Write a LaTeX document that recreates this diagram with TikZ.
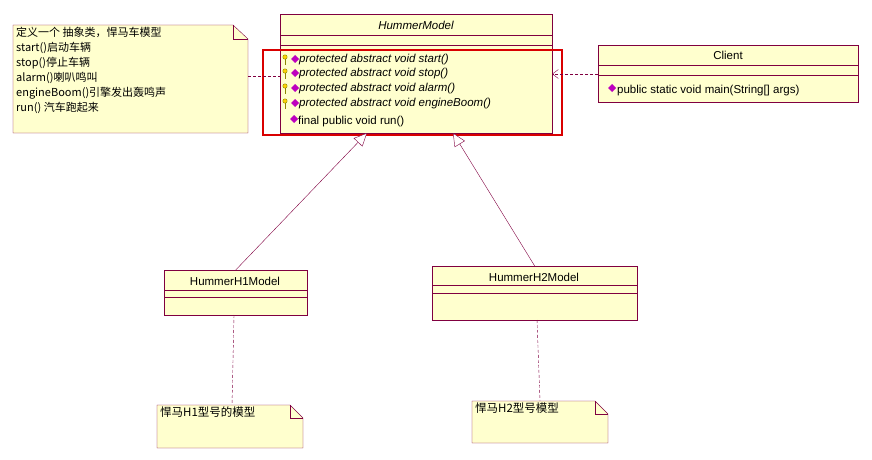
\documentclass[tikz,border=0pt]{standalone}
\usepackage{fontspec}
\setmainfont{Liberation Sans}
\newfontfamily\cjk{Noto Sans CJK SC}
\usetikzlibrary{shapes.geometric,arrows.meta}
\definecolor{umlfill}{RGB}{255,255,206}
\definecolor{umlline}{RGB}{128,0,64}
\definecolor{umlpink}{RGB}{190,0,190}
\tikzset{umlbox/.style={draw=umlline,fill=umlfill,anchor=north west,inner sep=0pt}}
\tikzset{umlnote/.style={umlline,fill=umlfill}}
\tikzset{mylink/.style={umlline,densely dashed}}
\tikzset{mytext/.style={font=\fontsize{11.5}{13}\selectfont,anchor=west,inner sep=1pt}}
\newcommand{\opdiamond}[1]{\fill[umlpink] (#1) ++(-4,-1) -- ++(4,-4) -- ++(4,4) -- ++(-4,4) -- cycle;}
\newcommand{\opkey}[1]{\draw[olive,fill=yellow!70!orange] (#1) ++(-6,-3) circle (2.2); \draw[olive,thick] (#1) ++(-6,-1) -- ++(0,6);}
\begin{document}
\begin{tikzpicture}[x=1pt,y=-1pt]
	\useasboundingbox (0,0) rectangle (872,460);

	% abstract class
	\node[umlbox,minimum width=272,minimum height=119] (hm) at (280,14) {};
	\node[mytext,anchor=center,font=\fontsize{11.5}{13}\selectfont\itshape] (hmname) at (416,25) {HummerModel};
	\draw[umlline] (280,35) -- (552,35) (280,45) -- (552,45);
	\foreach \y/\t [count=\i] in {60/start(),74/stop(),89/alarm(),104/engineBoom()} {
		\opkey{291,\y}
		\opdiamond{295,\y}
		\node[mytext,font=\fontsize{11.5}{13}\selectfont\itshape] (op\i) at (298,\y) {protected abstract void \t};
	}
	\opdiamond{294,120}
	\node[mytext] (op5) at (297,122) {final public void run()};
	\draw[red!85!black,line width=1.3pt] (263,50) rectangle (562,135);

	% client
	\node[umlbox,minimum width=260,minimum height=57] (cl) at (598,45) {};
	\node[mytext,anchor=center] (clname) at (728,55) {Client};
	\draw[umlline] (598,65) -- (858,65) (598,75) -- (858,75);
	\opdiamond{612,89}
	\node[mytext] (clop) at (616,91) {public static void main(String[] args)};

	% subclasses
	\node[umlbox,minimum width=143,minimum height=45] (h1) at (164,270) {};
	\node[mytext,anchor=center] (h1name) at (235,281) {HummerH1Model};
	\draw[umlline] (164,290) -- (307,290) (164,297) -- (307,297);
	\node[umlbox,minimum width=205,minimum height=54] (h2) at (432,266) {};
	\node[mytext,anchor=center] (h2name) at (534,277) {HummerH2Model};
	\draw[umlline] (432,285) -- (637,285) (432,293) -- (637,293);

	% notes
	\draw[umlnote] (13,25) -- (233,25) -- (248,39) -- (248,133) -- (13,133) -- cycle;
	\draw[umlline] (233,25) -- (233,39) -- (248,39);
	\node[mytext,anchor=north west,align=left,font=\fontsize{11}{15}\selectfont\cjk] (n0) at (15,26) {定义一个 抽象类，悍马车模型\\start()启动车辆\\stop()停止车辆\\alarm()喇叭鸣叫\\engineBoom()引擎发出轰鸣声\\run() 汽车跑起来};
	\draw[umlnote] (157,405) -- (290,405) -- (303,418) -- (303,448) -- (157,448) -- cycle;
	\draw[umlline] (290,405) -- (290,418) -- (303,418);
	\node[mytext,anchor=north west,font=\fontsize{11.5}{13}\selectfont\cjk] (n1) at (159,406) {悍马H1型号的模型};
	\draw[umlnote] (472,401) -- (595,401) -- (608,414) -- (608,443) -- (472,443) -- cycle;
	\draw[umlline] (595,401) -- (595,414) -- (608,414);
	\node[mytext,anchor=north west,font=\fontsize{11.5}{13}\selectfont\cjk] (n2) at (474,402) {悍马H2型号模型};

	% links
	\coordinate (n0r) at (248,76);
	\coordinate (hml) at (280,76);
	\draw[mylink] (n0r) -- (hml);
	\coordinate (clw) at (598,74);
	\coordinate (hme) at (552,74);
	\draw[mylink,-{Straight Barb[length=6pt,width=9pt]}] (clw) -- (hme);
	\coordinate (g1) at (367,133);
	\coordinate (g2) at (453,133);
	\draw[umlline,-{Triangle[open,length=13pt,width=12pt,fill=white]}] (h1.north) -- (g1);
	\draw[umlline,-{Triangle[open,length=13pt,width=12pt,fill=white]}] (h2.north) -- (g2);
	\coordinate (n1t) at (232,405);
	\coordinate (n2t) at (540,401);
	\draw[mylink] (234,315) -- (n1t);
	\draw[mylink] (537,320) -- (n2t);
\end{tikzpicture}
\end{document}
